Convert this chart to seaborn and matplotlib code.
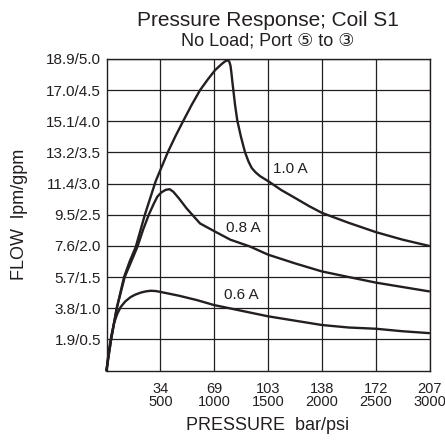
import matplotlib
matplotlib.use("Agg")
from matplotlib import pyplot as plt
import seaborn as sns
import pandas as pd

# values: pressure in psi, flow in gpm
psi_10 = [0, 20, 45, 95, 163, 215, 271, 358, 457, 571, 640, 711, 790, 869, 940, 1008,
          1070, 1100, 1122, 1140, 1152, 1160, 1170, 1178, 1195, 1215, 1249, 1287, 1320,
          1349, 1385, 1426, 1510, 1620, 1751, 1880, 2001, 2250, 2504, 2750, 2996]
gpm_10 = [0, 0.25, 0.52, 1.00, 1.50, 1.75, 1.98, 2.51, 3.04, 3.51, 3.76, 4.00, 4.26,
          4.50, 4.67, 4.82, 4.92, 4.96, 4.98, 4.96, 4.89, 4.78, 4.62, 4.50, 4.25, 4.01,
          3.75, 3.50, 3.35, 3.25, 3.18, 3.12, 3.03, 2.90, 2.77, 2.64, 2.53, 2.37, 2.22,
          2.10, 2.00]

psi_08 = [0, 45, 95, 169, 230, 286, 340, 395, 440, 472, 510, 550, 587, 620, 674, 745,
          869, 1008, 1150, 1333, 1500, 1750, 2001, 2250, 2504, 2750, 2996]
gpm_08 = [0, 0.52, 1.00, 1.50, 1.75, 1.98, 2.26, 2.51, 2.68, 2.79, 2.86, 2.90, 2.91,
          2.87, 2.76, 2.60, 2.36, 2.23, 2.10, 1.99, 1.86, 1.72, 1.59, 1.50, 1.41, 1.34,
          1.27]

psi_06 = [0, 10, 23, 45, 70, 100, 132, 175, 225, 270, 318, 365, 411, 460, 504, 590,
          674, 840, 1000, 1250, 1500, 1750, 2001, 2250, 2504, 2750, 2996]
gpm_06 = [0, 0.15, 0.33, 0.56, 0.76, 0.91, 1.02, 1.11, 1.18, 1.22, 1.25, 1.27, 1.28,
          1.275, 1.26, 1.23, 1.20, 1.13, 1.05, 0.96, 0.87, 0.80, 0.73, 0.69, 0.67, 0.63,
          0.60]

x_ticks = [500, 1000, 1500, 2000, 2500, 3000]
x_labels = ["34\n500", "69\n1000", "103\n1500", "138\n2000", "172\n2500", "207\n3000"]
y_ticks = [0.5, 1.0, 1.5, 2.0, 2.5, 3.0, 3.5, 4.0, 4.5, 5.0]
y_labels = ["1.9/0.5", "3.8/1.0", "5.7/1.5", "7.6/2.0", "9.5/2.5", "11.4/3.0",
            "13.2/3.5", "15.1/4.0", "17.0/4.5", "18.9/5.0"]

curve_labels = ["1.0 A", "0.8 A", "0.6 A"]
label_pos = [(1705, 3.23), (1268, 2.29), (1250, 1.21)]

df = pd.concat([
    pd.DataFrame({"psi": psi_10, "gpm": gpm_10, "coil": "1.0 A"}),
    pd.DataFrame({"psi": psi_08, "gpm": gpm_08, "coil": "0.8 A"}),
    pd.DataFrame({"psi": psi_06, "gpm": gpm_06, "coil": "0.6 A"}),
])

sns.set_style("white")
plt.rcParams['font.family'] = ['Liberation Sans', 'DejaVu Sans']
ink = '#231f20'

fig = plt.figure(figsize=(4.45, 4.41), dpi=100)
ax = fig.add_axes([106.5 / 445, 1 - 370.5 / 441, 323 / 445, 311.5 / 441])

sns.lineplot(data=df, x="psi", y="gpm", hue="coil", units="coil", estimator=None,
             sort=False, palette=[ink] * 3, linewidth=1.7, legend=False, ax=ax)
for ln in ax.lines:
    ln.set_solid_joinstyle('round')
    ln.set_clip_on(False)

ax.set_xlim(0, 3000)
ax.set_ylim(0, 5.0)
ax.set_xticks(x_ticks)
ax.set_xticklabels(x_labels, fontsize=10.5, color=ink, linespacing=0.95)
ax.set_yticks(y_ticks)
ax.set_yticklabels(y_labels, fontsize=11, color=ink)
ax.tick_params(length=0, pad=4)
ax.tick_params(axis='x', pad=8)
ax.grid(True, color=ink, linewidth=0.9)
for s in ax.spines.values():
    s.set_visible(True)
    s.set_color(ink)
    s.set_linewidth(1.0)

ax.set_xlabel("PRESSURE  bar/psi", fontsize=13, color=ink, labelpad=6)
ax.set_ylabel("FLOW  lpm/gpm", fontsize=13, color=ink, labelpad=13)

for lab, (x, y) in zip(curve_labels, label_pos):
    ax.text(x, y, lab, fontsize=11, color=ink, ha='center', va='center')

fig.text(267.5 / 445, 1 - 20 / 441, "Pressure Response; Coil S1", fontsize=15,
         color=ink, ha='center', va='center')
fig.text(267.5 / 445, 1 - 41 / 441, "No Load; Port ⑤ to ③", fontsize=13,
         color=ink, ha='center', va='center')

plt.savefig("out.png", dpi=100)
